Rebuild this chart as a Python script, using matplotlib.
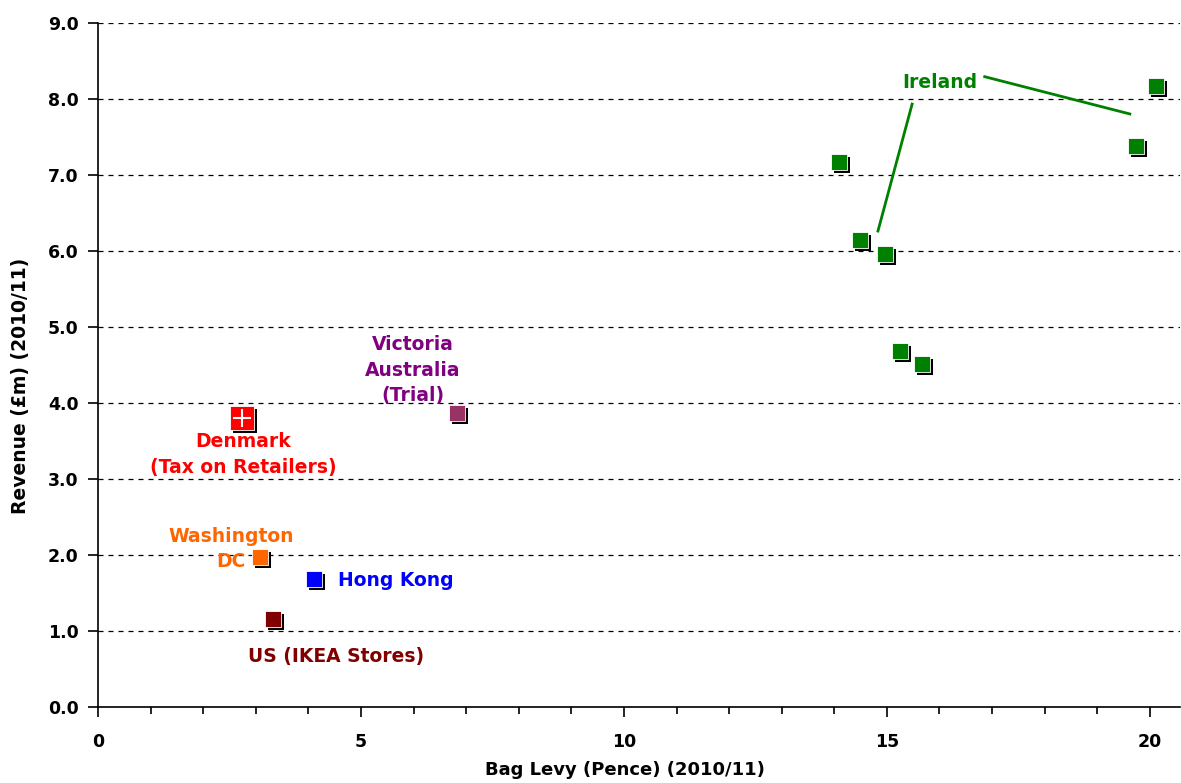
import matplotlib.pyplot as plt
from matplotlib.ticker import MultipleLocator, FormatStrFormatter
import matplotlib.transforms as mtransforms

plt.rcParams['font.family'] = ['DejaVu Sans']
plt.rcParams['font.weight'] = 'bold'

# data
ireland_x = [14.09, 14.49, 14.96, 15.25, 15.67, 19.73, 20.11]
ireland_y = [7.17, 6.14, 5.96, 4.68, 4.51, 7.38, 8.17]
others = ["Denmark", "Victoria", "Washington DC", "Hong Kong", "US (IKEA Stores)"]
others_x = [2.74, 6.82, 3.08, 4.11, 3.33]
others_y = [3.80, 3.87, 1.97, 1.68, 1.16]
marker_cols = ["#FF0000", "#993366", "#FF6600", "#0000FF", "#800000"]

fig = plt.figure(figsize=(11.81, 7.83), dpi=100)
ax = fig.add_axes([0.083, 0.097, 0.916, 0.874])
ax.set_xlim(0, 20.57)
ax.set_ylim(0, 9)

shadow = mtransforms.offset_copy(ax.transData, fig=fig, x=3, y=-3, units='dots')

def squares(xs, ys, col, size=12):
    ax.scatter(xs, ys, marker='s', s=size**2, c='black', transform=shadow, zorder=3, linewidths=0)
    ax.scatter(xs, ys, marker='s', s=size**2, c=col, edgecolors='white', linewidths=0.6, zorder=4)

squares(ireland_x, ireland_y, "#008000")
for i, name in enumerate(others):
    if name == "Denmark":
        squares([others_x[i]], [others_y[i]], marker_cols[i], size=17)
        ax.scatter(others_x[i], others_y[i], marker='+', s=150, c='white', linewidths=1.5, zorder=5)
    else:
        squares([others_x[i]], [others_y[i]], marker_cols[i])

fs = 13.5
ls = 1.42
ax.text(2.76, 3.32, "Denmark\n(Tax on Retailers)", color="#FF0000", ha='center', va='center',
        fontsize=fs, fontweight='bold', linespacing=ls)
ax.text(5.99, 4.43, "Victoria\nAustralia\n(Trial)", color="#800080", ha='center', va='center',
        fontsize=fs, fontweight='bold', linespacing=ls)
ax.text(2.53, 2.08, "Washington\nDC", color="#FF6600", ha='center', va='center',
        fontsize=fs, fontweight='bold', linespacing=ls)
ax.text(4.56, 1.67, "Hong Kong", color="#0000FF", ha='left', va='center',
        fontsize=fs, fontweight='bold')
ax.text(4.52, 0.66, "US (IKEA Stores)", color="#800000", ha='center', va='center',
        fontsize=fs, fontweight='bold')
ax.text(16.0, 8.22, "Ireland", color="#008000", ha='center', va='center',
        fontsize=fs, fontweight='bold')

# leader lines from the Ireland label
ax.plot([15.48, 14.83], [7.93, 6.26], color="#008000", lw=2, zorder=2)
ax.plot([16.86, 19.62], [8.29, 7.80], color="#008000", lw=2, zorder=2)

ax.yaxis.set_major_locator(MultipleLocator(1))
ax.yaxis.set_major_formatter(FormatStrFormatter('%.1f'))
ax.xaxis.set_major_locator(MultipleLocator(5))
ax.xaxis.set_minor_locator(MultipleLocator(1))
ax.grid(axis='y', color='black', linestyle=(0, (4, 4)), linewidth=0.9)
ax.set_axisbelow(True)

for s in ['top', 'right']:
    ax.spines[s].set_visible(False)
for s in ['left', 'bottom']:
    ax.spines[s].set_linewidth(1.2)

ax.tick_params(axis='both', which='major', labelsize=12.5, length=7, width=1.2, direction='out')
ax.tick_params(axis='x', which='minor', length=5, width=1.2, direction='out')
ax.tick_params(axis='x', pad=12)
ax.tick_params(axis='y', pad=7)
for lab in ax.get_xticklabels() + ax.get_yticklabels():
    lab.set_fontweight('bold')

ax.set_xlabel("Bag Levy (Pence) (2010/11)", fontsize=13, fontweight='bold')
ax.set_ylabel("Revenue (£m) (2010/11)", fontsize=13.5, fontweight='bold')
ax.xaxis.set_label_coords(0.487, -0.079)
ax.yaxis.set_label_coords(-0.063, 0.47)

fig.savefig("out.png", dpi=100)
